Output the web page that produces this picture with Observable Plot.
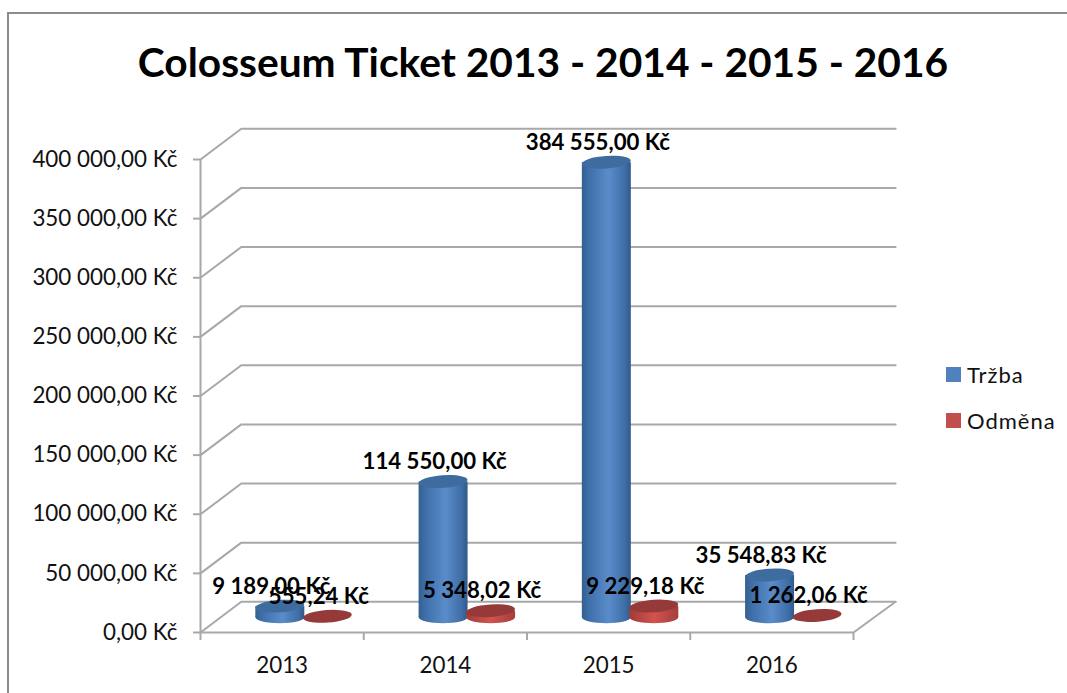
<!DOCTYPE html>
<html><head><meta charset="utf-8">
<script src="https://cdn.jsdelivr.net/npm/d3@7"></script>
<script src="https://cdn.jsdelivr.net/npm/@observablehq/plot@0.6"></script>
<style>
html,body{margin:0;padding:0;background:#fff;width:1067px;height:693px;overflow:hidden}
#wrap{position:relative;width:1067px;height:693px;font-family:Lato,sans-serif;color:#111}
#frame{position:absolute;left:7px;top:12px;right:0;bottom:0;border-left:2px solid #8c8c8c;border-top:2px solid #8c8c8c}
#title{position:absolute;left:0;width:1086px;top:39px;text-align:center;font-size:40.7px;font-weight:700;color:#000;line-height:46px;white-space:nowrap}
.lg{position:absolute;left:946px;font-size:22px;line-height:20px;letter-spacing:1px}
.lg i{position:absolute;left:0;top:2px;width:15px;height:15px}
.lg span{position:absolute;left:21px;top:0;white-space:nowrap}
svg{position:absolute;left:0;top:0}
</style></head><body><div id="wrap">
<div id="frame"></div>
<div id="title">Colosseum Ticket 2013 - 2014 - 2015 - 2016</div>
</div>
<script>
const years = ["2013", "2014", "2015", "2016"];
const trzba = [9189.00, 114550.00, 384555.00, 35548.83];
const odmena = [555.24, 5348.02, 9229.18, 1262.06];
const yTicks = [0, 50000, 100000, 150000, 200000, 250000, 300000, 350000, 400000];
const seriesNames = ["Tržba", "Odměna"];
const seriesColors = ["#4f81bd", "#c0504d"];

const kc = d3.formatLocale({decimal: ",", thousands: " ", grouping: [3], currency: ["", " Kč"]}).format("$,.2f");

// chart frame in data units
const depthX = 0.25, depthEnd = 0.258, depthY = 26000;      // oblique wall depth
const baseY = 12700;                       // cylinders stand mid-floor
const halfW = 0.15, capY = 5300;           // cylinder half-width, cap half-height
const gap = {blue: 0.489, red: 0.78};

const bars = [
  ...trzba.map((v, i) => ({s: "blue", v, c: i + gap.blue})),
  ...odmena.map((v, i) => ({s: "red", v, c: i + gap.red}))
].map(d => ({...d, top: baseY + d.v}));

const grid = yTicks.flatMap(t => [
  {t, x: 0, y: t}, {t, x: depthX, y: t + depthY}, {t, x: 4 + depthEnd, y: t + depthY}
]);
const floor = [{x: 0, y: 0}, {x: 4, y: 0}, {x: 4 + depthEnd, y: depthY}];

const tilt = (index, scales, values, dims, ctx, next) => {
  const g = next(index, scales, values, dims, ctx);
  g.querySelectorAll("rect").forEach(r => {
    const x = +r.getAttribute("x"), y = +r.getAttribute("y"), w = +r.getAttribute("width"), h = +r.getAttribute("height");
    r.setAttribute("transform", `rotate(-4 ${x + w / 2} ${y + h / 2})`);
  });
  return g;
};
const fillBody = d => d.s === "blue" ? "url(#gb)" : "url(#gr)";
const fillCap = d => d.s === "blue" ? "#3f6c9f" : "#953a38";
const body = bars.filter(d => d.v > 2000);

const chart = Plot.plot({
  width: 1067, height: 693,
  marginLeft: 200, marginRight: 214, marginTop: 159, marginBottom: 61,
  style: {background: "transparent", overflow: "visible", fontFamily: "Lato, sans-serif"},
  x: {domain: [0, 4], axis: null},
  y: {domain: [0, 400000], axis: null},
  marks: [
    () => {
      const s = d3.create("svg:defs");
      s.html(`<linearGradient id="gb"><stop offset="0" stop-color="#33608f"/><stop offset=".15" stop-color="#3f70aa"/><stop offset=".55" stop-color="#5a8ccb"/><stop offset=".88" stop-color="#3f6ea6"/><stop offset="1" stop-color="#2f5a8a"/></linearGradient>
      <linearGradient id="gr"><stop offset="0" stop-color="#a03c39"/><stop offset=".5" stop-color="#d2524e"/><stop offset="1" stop-color="#a33f3c"/></linearGradient>`);
      return s.node();
    },
    Plot.line(grid, {x: "x", y: "y", z: "t", stroke: "#a8a8a8", strokeWidth: 2}),
    Plot.line(floor, {x: "x", y: "y", stroke: "#a8a8a8", strokeWidth: 2}),
    Plot.ruleX([0], {y1: 0, y2: 400000, stroke: "#a8a8a8", strokeWidth: 2}),
    Plot.axisY({ticks: yTicks, tickSize: 7, tickPadding: 16, stroke: "#a8a8a8", strokeWidth: 2, fill: "#111", fontSize: 22.4, tickFormat: kc, label: null}),
    Plot.axisX({ticks: [0, 1, 2, 3, 4], tickSize: 8, stroke: "#a8a8a8", strokeWidth: 2, tickFormat: () => "", label: null}),
    Plot.text(years, {x: (d, i) => i + 0.5, y: 0, dy: 33, text: d => d, fontSize: 22.4, fill: "#111"}),
    // bottom end, body, top cap of each cylinder
    Plot.rect(body, {x1: d => d.c - halfW, x2: d => d.c + halfW, y1: baseY - capY, y2: baseY + capY, rx: 24.5, ry: 6.5, fill: fillBody}),
    Plot.rect(body, {x1: d => d.c - halfW, x2: d => d.c + halfW, y1: baseY, y2: "top", fill: fillBody}),
    Plot.rect(bars, {x1: d => d.c - halfW, x2: d => d.c + halfW, y1: d => d.top - capY, y2: d => d.top + capY, rx: 24.5, ry: 6.5, fill: fillCap, render: tilt}),
    Plot.text(bars, {x: "c", y: "top", dx: -9, dy: -20, text: d => kc(d.v), fontSize: 22.2, fontWeight: 700, fill: "#000"})
  ]
});
const wrap = document.getElementById("wrap");
wrap.insertBefore(chart, document.getElementById("title"));
seriesNames.forEach((n, i) => {
  const el = document.createElement("div");
  el.className = "lg";
  el.style.top = (365 + i * 46) + "px";
  el.innerHTML = `<i style="background:${seriesColors[i]}"></i><span>${n}</span>`;
  wrap.appendChild(el);
});
</script>
</body></html>
